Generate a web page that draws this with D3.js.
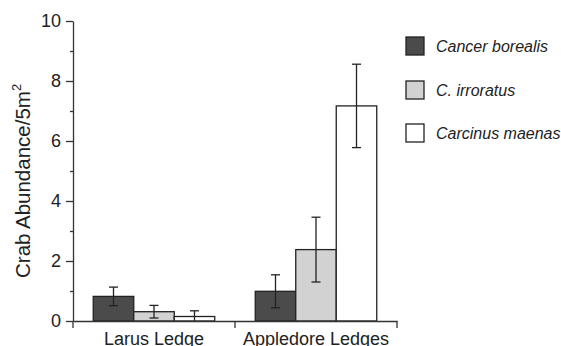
<!DOCTYPE html>
<html>
<head>
<meta charset="utf-8">
<script src="https://cdn.jsdelivr.net/npm/d3@7"></script>
<style>
  html, body { margin: 0; padding: 0; background: #fff; }
  svg { display: block; font-family: "Liberation Sans", Arial, sans-serif; }
</style>
</head>
<body>
<div id="chart"></div>
<script>
// crab abundance by site, grouped bars with error bars

const sites = ["Larus Ledge", "Appledore Ledges"];
const species = ["Cancer borealis", "C. irroratus", "Carcinus maenas"];
const means = [
  [0.82, 0.31, 0.15],
  [0.99, 2.38, 7.17]
];
const errors = [
  [0.31, 0.21, 0.19],
  [0.55, 1.08, 1.39]
];
const majorTicks = [0, 2, 4, 6, 8, 10];
const minorTicks = [1, 3, 5, 7, 9];

function drawChart() {
  const width = 561;
  const height = 346;
  const left = 73, right = 397, top = 21, bottom = 321;
  const fills = ["#4b4b4b", "#d2d2d2", "#ffffff"];
  const ink = "#222";

  const svg = d3.select("#chart")
    .append("svg")
    .attr("width", width)
    .attr("height", height);

  const y = d3.scaleLinear().domain([0, 10]).range([bottom, top]);
  const x0 = d3.scaleBand().domain(sites).range([left, right]);
  const x1 = d3.scaleBand().domain(species)
    .range([0, x0.bandwidth()])
    .paddingOuter(0.5);

  // bars
  const groups = svg.selectAll("g.site")
    .data(sites)
    .join("g")
    .attr("class", "site")
    .attr("transform", function(d) { return "translate(" + x0(d) + ",0)"; });

  groups.each(function(site, i) {
    const rows = species.map(function(s, j) {
      return { s: s, j: j, v: means[i][j], e: errors[i][j] };
    });
    const g = d3.select(this);

    g.selectAll("rect")
      .data(rows)
      .join("rect")
      .attr("x", function(d) { return x1(d.s); })
      .attr("y", function(d) { return y(d.v); })
      .attr("width", x1.bandwidth())
      .attr("height", function(d) { return y(0) - y(d.v); })
      .attr("fill", function(d) { return fills[d.j]; })
      .attr("stroke", ink)
      .attr("stroke-width", 1.3);

    const err = g.selectAll("g.err")
      .data(rows)
      .join("g")
      .attr("class", "err")
      .attr("stroke", ink)
      .attr("stroke-width", 1.3)
      .attr("transform", function(d) {
        return "translate(" + (x1(d.s) + x1.bandwidth() / 2) + ",0)";
      });

    err.append("line")
      .attr("y1", function(d) { return y(d.v + d.e); })
      .attr("y2", function(d) { return y(Math.max(0, d.v - d.e)); });
    err.append("line")
      .attr("x1", -4.5).attr("x2", 4.5)
      .attr("y1", function(d) { return y(d.v + d.e); })
      .attr("y2", function(d) { return y(d.v + d.e); });
    err.filter(function(d) { return d.v - d.e > 0; })
      .append("line")
      .attr("x1", -4.5).attr("x2", 4.5)
      .attr("y1", function(d) { return y(d.v - d.e); })
      .attr("y2", function(d) { return y(d.v - d.e); });
  });

  // y axis
  const yAxis = svg.append("g")
    .attr("transform", "translate(" + left + ",0)")
    .call(d3.axisLeft(y).tickValues(majorTicks).tickSize(7).tickSizeOuter(0).tickPadding(5));
  yAxis.selectAll("text").attr("font-size", 18).attr("fill", "#222");
  yAxis.selectAll("line, path").attr("stroke", "#333").attr("stroke-width", 1.3);

  svg.append("g")
    .attr("transform", "translate(" + left + ",0)")
    .call(d3.axisLeft(y).tickValues(minorTicks).tickSize(3).tickFormat(""))
    .call(function(g) { g.select(".domain").remove(); })
    .selectAll("line").attr("stroke", "#333").attr("stroke-width", 1.3);

  // x axis: labels under groups, ticks at group edges
  const xAxis = svg.append("g")
    .attr("transform", "translate(0," + bottom + ")")
    .call(d3.axisBottom(x0).tickSize(0).tickPadding(11).tickSizeOuter(0));
  xAxis.selectAll("text").attr("font-size", 18).attr("fill", "#222");
  xAxis.select(".domain").attr("stroke", "#333").attr("stroke-width", 1.3);

  const edges = sites.map(function(s) { return x0(s); }).concat([x0.range()[1]]);
  xAxis.selectAll("line.edge")
    .data(edges)
    .join("line")
    .attr("class", "edge")
    .attr("x1", function(d) { return d; })
    .attr("x2", function(d) { return d; })
    .attr("y1", 0)
    .attr("y2", 7)
    .attr("stroke", "#333")
    .attr("stroke-width", 1.3);

  // y title
  const title = svg.append("text")
    .attr("transform", "translate(30,278) rotate(-90)")
    .attr("font-size", 20.5)
    .attr("fill", "#222")
    .text("Crab Abundance/5m");
  title.append("tspan")
    .attr("font-size", 13)
    .attr("dy", -9)
    .text("2");

  // legend
  const legendY = [37, 81, 124];
  const legend = svg.append("g")
    .selectAll("g")
    .data(species)
    .join("g")
    .attr("transform", function(d, i) { return "translate(406," + legendY[i] + ")"; });

  legend.append("rect")
    .attr("width", 18)
    .attr("height", 18)
    .attr("fill", function(d, i) { return fills[i]; })
    .attr("stroke", ink)
    .attr("stroke-width", 1.3);

  legend.append("text")
    .attr("x", 30)
    .attr("y", 15)
    .attr("font-size", 16)
    .attr("font-style", "italic")
    .attr("fill", "#222")
    .text(function(d) { return d; });
}

if (document.readyState === "loading") {
  document.addEventListener("DOMContentLoaded", drawChart);
} else {
  drawChart();
}
</script>
</body>
</html>
